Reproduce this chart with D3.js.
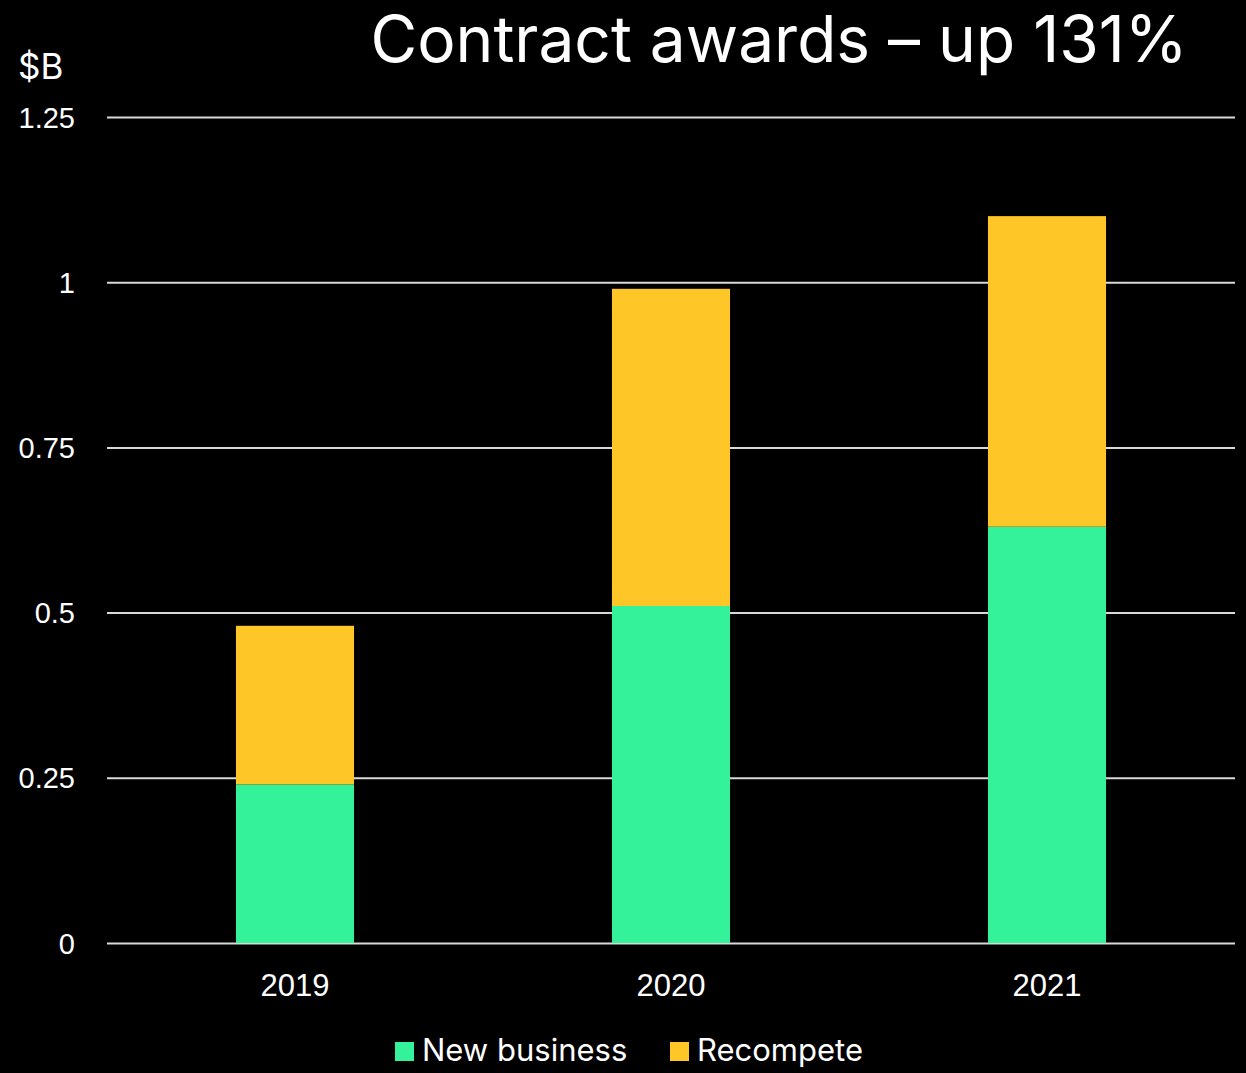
<!DOCTYPE html>
<html>
<head>
<meta charset="utf-8">
<script src="https://cdn.jsdelivr.net/npm/d3@7"></script>
<style>
  body { margin: 0; background: #000; }
  svg { display: block; font-family: Inter, "Open Sans", sans-serif; }
</style>
</head>
<body>
<div id="canvas"></div>
<script>
// data
var years = ['2019', '2020', '2021'];
var newBusiness = [0.24, 0.51, 0.63];
var recompete = [0.24, 0.48, 0.47];
var yTicks = [0, 0.25, 0.5, 0.75, 1, 1.25];
var seriesNames = ['New business', 'Recompete'];
var seriesColors = ['#33f29a', '#ffc627'];

var W = 1246, H = 1073;
var m = {t: 117, r: 11, b: 130, l: 107};
var w = W - m.l - m.r,
    h = H - m.t - m.b;

var svg = d3.select('#canvas').append('svg')
    .attr('width', W)
    .attr('height', H)
    .style('background', '#000');

var plot = svg.append('g')
    .attr('transform', 'translate(' + m.l + ',' + m.t + ')');

var rows = years.map(function(y, i) {
  return {year: y, 'New business': newBusiness[i], 'Recompete': recompete[i]};
});
var stacked = d3.stack().keys(seriesNames)(rows);

var x = d3.scaleBand()
    .domain(years)
    .range([0, w])
    .paddingInner(0.686)
    .paddingOuter(0.343);

var y = d3.scaleLinear()
    .domain([0, 1.25])
    .range([h, 0]);

// grid + y labels
var axisY = d3.axisLeft(y)
    .tickValues(yTicks)
    .tickSize(-w)
    .tickFormat(function(d) { return String(d); });

var gy = plot.append('g').attr('class', 'axis').call(axisY);
gy.select('.domain').remove();
gy.selectAll('line').attr('stroke', '#d9d9d9').attr('stroke-width', 2);
gy.selectAll('text')
    .attr('x', -32)
    .attr('fill', '#fff')
    .style('font-size', '29px')
    .attr('dy', '0.35em');

// bars
var color = d3.scaleOrdinal().domain(seriesNames).range(seriesColors);
plot.selectAll('.series')
    .data(stacked)
    .enter().append('g')
    .attr('class', 'series')
    .attr('fill', function(d) { return color(d.key); })
    .selectAll('rect')
    .data(function(d) { return d; })
    .enter().append('rect')
    .attr('x', function(d) { return x(d.data.year); })
    .attr('y', function(d) { return y(d[1]); })
    .attr('width', x.bandwidth())
    .attr('height', function(d) { return y(d[0]) - y(d[1]); });

// x axis labels
var axisX = d3.axisBottom(x).tickSize(0).tickPadding(31);
var gx = plot.append('g')
    .attr('transform', 'translate(0,' + h + ')')
    .call(axisX);
gx.select('.domain').remove();
gx.selectAll('text')
    .attr('fill', '#fff')
    .style('font-size', '31px');

// title and unit
svg.append('text')
    .attr('x', 779)
    .attr('y', 62)
    .attr('text-anchor', 'middle')
    .attr('fill', '#fff')
    .style('font-size', '64px')
    .text('Contract awards – up 131%');

svg.append('text')
    .attr('x', 18)
    .attr('y', 79)
    .attr('fill', '#fff')
    .style('font-size', '35px')
    .text('$B');

// legend
var legX = [395, 670];
var leg = svg.selectAll('.legend')
    .data(seriesNames)
    .enter().append('g')
    .attr('class', 'legend')
    .attr('transform', function(d, i) { return 'translate(' + legX[i] + ',1042)'; });
leg.append('rect')
    .attr('width', 19)
    .attr('height', 19)
    .attr('fill', function(d) { return color(d); });
leg.append('text')
    .attr('x', 27)
    .attr('y', 19)
    .attr('fill', '#fff')
    .style('font-size', '31px')
    .text(function(d) { return d; });
</script>
</body>
</html>
